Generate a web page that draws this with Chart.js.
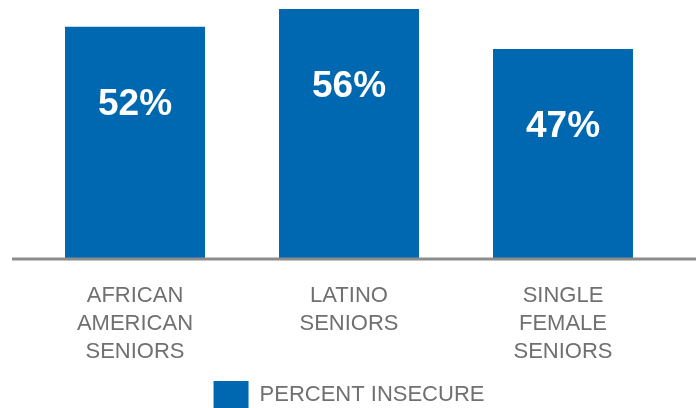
<!DOCTYPE html>
<html>
<head>
<meta charset="utf-8">
<script src="https://cdn.jsdelivr.net/npm/chart.js@4.4.1/dist/chart.umd.min.js"></script>
<style>
  html, body { margin: 0; padding: 0; background: #ffffff; }
  #wrap { width: 696px; height: 408px; position: relative; }
</style>
</head>
<body>
<div id="wrap"><canvas id="c"></canvas></div>
<script>
const categories = [
  ["AFRICAN", "AMERICAN", "SENIORS"],
  ["LATINO", "SENIORS"],
  ["SINGLE", "FEMALE", "SENIORS"]
];
const seriesName = "PERCENT INSECURE";
const percentInsecure = [52, 56, 47];
const valueLabels = ["52%", "56%", "47%"];

const BLUE = "#0067B1";
const GRAY = "#707070";

const valueLabelPlugin = {
  id: "valueLabels",
  afterDatasetsDraw(chart) {
    const ctx = chart.ctx;
    const meta = chart.getDatasetMeta(0);
    ctx.save();
    ctx.fillStyle = "#ffffff";
    ctx.font = "bold 37px 'Liberation Sans', Arial, sans-serif";
    ctx.textAlign = "center";
    ctx.textBaseline = "middle";
    meta.data.forEach((bar, i) => {
      ctx.fillText(valueLabels[i], bar.x, bar.y + 78);
    });
    const y = chart.scales.y.getPixelForValue(0);
    ctx.strokeStyle = "#8c8c8c";
    ctx.lineWidth = 3;
    ctx.beginPath();
    ctx.moveTo(12, y);
    ctx.lineTo(chart.width, y);
    ctx.stroke();
    ctx.restore();
  }
};

new Chart(document.getElementById("c"), {
  type: "bar",
  data: {
    labels: categories,
    datasets: [{
      label: seriesName,
      data: percentInsecure,
      backgroundColor: BLUE,
      borderWidth: 0,
      barPercentage: 1.0,
      categoryPercentage: 0.654
    }]
  },
  options: {
    responsive: true,
    maintainAspectRatio: false,
    animation: false,
    layout: { padding: { left: 28, right: 26, top: 0, bottom: -10 } },
    plugins: {
      tooltip: { enabled: false },
      legend: {
        display: true,
        position: "bottom",
        labels: {
          boxWidth: 35,
          boxHeight: 27,
          padding: 0,
          color: GRAY,
          font: { family: "'Liberation Sans', Arial, sans-serif", size: 22 }
        }
      }
    },
    scales: {
      x: {
        grid: { display: false, drawTicks: false },
        border: { display: false },
        ticks: {
          color: GRAY,
          padding: 23,
          maxRotation: 0,
          autoSkip: false,
          font: { family: "'Liberation Sans', Arial, sans-serif", size: 22, lineHeight: 28 / 22 }
        },
        afterFit(scale) { scale.height = 122; }
      },
      y: {
        display: false,
        min: 0,
        max: 58
      }
    }
  },
  plugins: [valueLabelPlugin]
});
</script>
</body>
</html>
